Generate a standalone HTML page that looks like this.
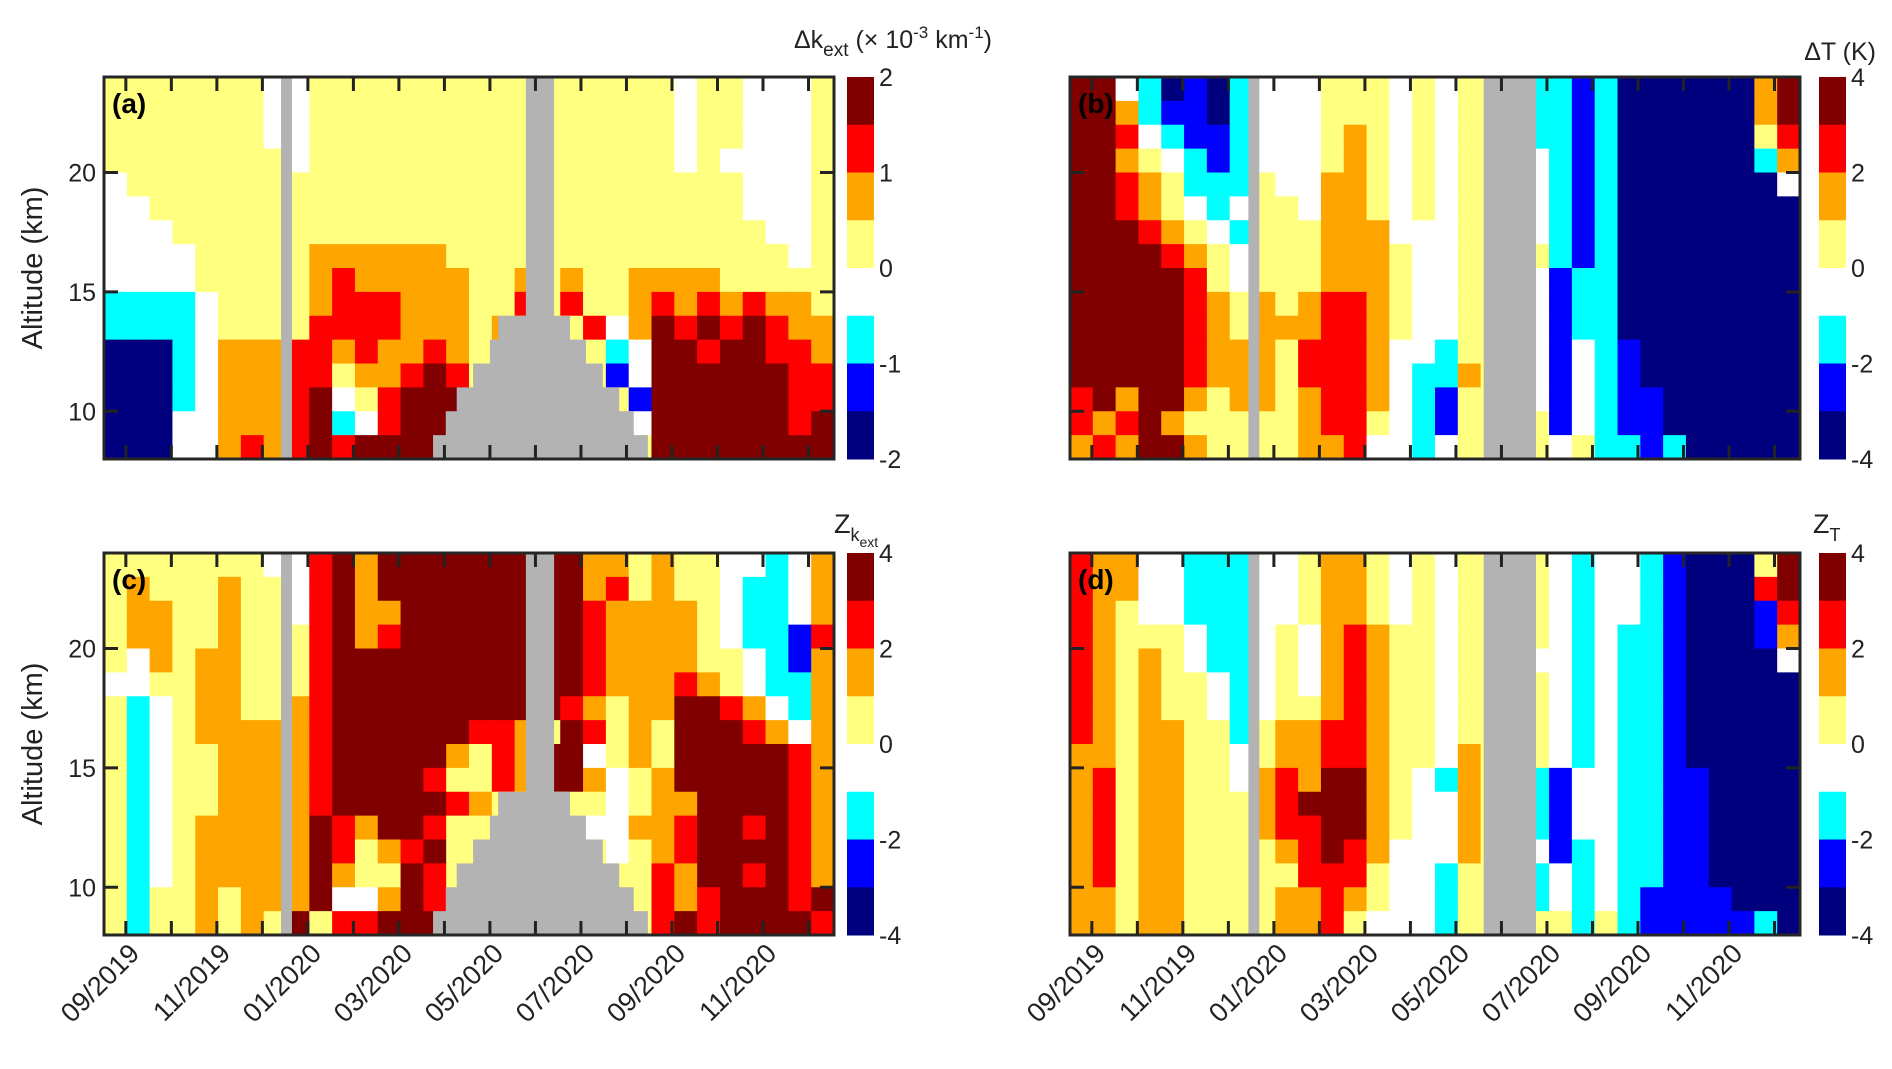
<!DOCTYPE html>
<html><head><meta charset="utf-8">
<style>
html,body{margin:0;padding:0;background:#fff;}
svg{display:block;font-family:"Liberation Sans","DejaVu Sans",sans-serif;}
</style></head>
<body>
<svg id="fig" width="1892" height="1069" viewBox="0 0 1892 1069" xmlns="http://www.w3.org/2000/svg"></svg>
<script>
// ---- data ----
const monthTicks = [0,1,2,3,4,5,6,7,8,9,10,11,12,13,14,15];
const monthLabels = ["09/2019","11/2019","01/2020","03/2020","05/2020","07/2020","09/2020","11/2020"];
const labelMonths = [0,2,4,6,8,10,12,14];
const altTicks = [10,15,20];
const cbarLabelsK = ["2","1","0","-1","-2"];
const cbarLabelsT = ["4","2","0","-2","-4"];
const cbarBands = ["d","r","o","y","w","c","b","n"];
// category grids: rows from 24 km (top) to 8 km, 32 half-month columns (groups of 8)
const gridA = [
"yyyyyyyw wyyyyyyy yyyyyyyy ywyywwwy",
"yyyyyyyw wyyyyyyy yyyyyyyy ywyywwwy",
"yyyyyyyw wyyyyyyy yyyyyyyy ywyywwwy",
"yyyyyyyy wyyyyyyy yyyyyyyy ywywwwwy",
"wyyyyyyy yyyyyyyy yyyyyyyy yyyywwwy",
"wwyyyyyy yyyyyyyy yyyyyyyy yyyywwwy",
"wwwyyyyy yyyyyyyy yyyyyyyy yyyyywwy",
"wwwwyyyy yooooooy yyyyyyyy yyyyyywy",
"wwwwyyyy yorooooo yyoyoyyo oooyyyyy",
"ccccwyyy yorrrooo yyryryyo rororooy",
"ccccwyyy yrrrrooo yoyyyrwo drdrdroo",
"nnncwooo rrorooro yyyyyycw ddrddrro",
"nnncwooo rryoordr yyyyyybw ddddddrr",
"nnncwooo rdwyrddd yyyyyyyb ddddddrr",
"nnnwwooo rdcwrddd yyyyyyyw ddddddrd",
"nnnwworo rdrddddd yyyyyyyy dddddddd"];
const gridB = [
"ddwcnbnc wwwyyywy wyyyccbc nnnnnnod",
"ddocbbnc wwwyyywy wyyyccbc nnnnnnod",
"ddrwcbbc wwwyoywy wyyyccbc nnnnnnyr",
"ddoywcbc wwwyoywy wyyywcbc nnnnnnco",
"ddroyccc ywwooywy wyyywcbc nnnnnnnw",
"ddroywcw yywooywy wyyywcbc nnnnnnnn",
"dddroywc yyyoooww wyyywcbc nnnnnnnn",
"ddddroyw yyyoooyw wyyyycbc nnnnnnnn",
"dddddryw yyyoooyw wyyywbcc nnnnnnnn",
"dddddroy oyorroyw wyyywbcc nnnnnnnn",
"dddddroy ooorroyw wyyywbcc nnnnnnnn",
"dddddroo oyrrroww cyyywbwc bnnnnnnn",
"dddddroo oyrrrowc coyywbwc bnnnnnnn",
"rdoddoyo oyorrowc byyywbwc bbnnnnnn",
"rordoyyy yyorrywc byyyybwc bbnnnnnn",
"oroddoyy yyoorwwc wyyyywyc cbcnnnnn"];
const gridC = [
"yyyyyyyw wrdodddd dddddooy oyywwcwo",
"yoyyyoyy wrdodddd dddddory oyywccwo",
"yooyyoyy wrdooddd dddddroo ooywccwo",
"yooyyoyy yrdorddd dddddroo ooywccbr",
"ywoyooyy yrdddddd dddddroo ooyywcbo",
"wwyyooyy yrdddddd dddddroo oroywcco",
"ycwyooyy ordddddd ddddroyo oddrowco",
"ycwyoooo ordddddd rroydryo ydddrowo",
"ycwyyooo ordddddo yroddwyo ydddddro",
"ycwyyooo orddddry yroddowy odddddro",
"ycwyyooo ordddddr oyyyyywy ooddddro",
"ycwyoooo odroddry yyyyywwo orddrdro",
"ycwyoooo odryordy yyyyyywy orddddro",
"ycwyoooo odoyydry yyyyyyyy roddrdro",
"ycyyoyoo odwwodry yyyyyyyy rordddrd",
"ycyyoyoy dyrrdddy yyyyyyyy rdrddddr"];
const gridD = [
"roowwccc wwyooywy wyyyywcw wcbnnnyd",
"roowwccc wwyooywy wyyyywcw wcbnnnrd",
"roywwccc wwyooywy wyyyywcw wcbnnnbr",
"royyywcc wyworoyy wyyyywcw ccbnnnbo",
"royoywcc wyworoyy wyyywwcw ccbnnnnw",
"royoyywc wyworoyy wyyyywcw ccbnnnnn",
"royoyywc wyyoroyy wyyyywcw ccbnnnnn",
"royooyyc yoorroyy wyyyywcw ccbnnnnn",
"ooyooyyw yoorroyy woyyywcw ccbnnnnn",
"oryooyyw oroddoyw coyycbww ccbbnnnn",
"oryooyyy ordddoyw woyycbww ccbbnnnn",
"oryooyyy orrddoyw woyycbww ccbbnnnn",
"oryooyyy yordroww woyywbcw ccbbnnnn",
"oryooyyy yyrrryww cyyycwcw ccbbnnnn",
"ooyooyyy yooroyww cyyycwcw cbbbbnnn",
"ooyooyyy yoorywww cyyyyycy cbbbbbcn"];
// gray masks (month ranges, full height) and bottom-anchored steps [altTop, startMonth, endMonth]
const maskBarsAC = [[3.41,3.65],[8.79,9.41]];
const stepsAC = [[9,6.75,11.47],[10,7.03,11.16],[11,7.27,10.84],[12,7.63,10.48],[13,8.0,10.11],[14,8.18,9.76]];
const maskBarsBD = [[3.44,3.68],[8.61,9.76]];
</script>
<script>
const NS="http://www.w3.org/2000/svg";
const svg=document.getElementById('fig');
const COLORS={n:"#00007f",b:"#0000ff",c:"#00ffff",w:"#ffffff",y:"#ffff80",o:"#ffa500",r:"#ff0000",d:"#800000",g:"#b3b3b3"};
const TMIN=-0.48, TMAX=15.56;
function mk(tag,attrs,parent){const e=document.createElementNS(NS,tag);for(const k in attrs)e.setAttribute(k,attrs[k]);(parent||svg).appendChild(e);return e;}

function panel(id,left,top,gridRaw,bars,steps,showY,showX,letter,cbLabels,cbX){
  const W=730,H=382;
  const grid=gridRaw.map(s=>s.replace(/ /g,''));
  const xs=t=>left+(t-TMIN)/(TMAX-TMIN)*W;
  const ys=a=>top+(24-a)/16*H;
  const g=mk('g',{});
  
  
  const cw=(TMAX-TMIN)/32;
  grid.forEach((row,ri)=>{
    for(let ci=0;ci<32;ci++){
      const ch=row[ci]||'w';
      const t0=TMIN+ci*cw, a0=24-ri;
      const r=mk('rect',{x:xs(t0),y:ys(a0),width:W/32+0.6,height:H/16+0.6,fill:COLORS[ch]},g);
      
      
    }
  });
  bars.forEach(b=>{
    const r=mk('rect',{x:xs(b[0]),y:top,width:xs(b[1])-xs(b[0]),height:H,fill:COLORS.g},g);
    
    
  });
  (steps||[]).forEach(s=>{
    const r=mk('rect',{x:xs(s[1]),y:ys(s[0]),width:xs(s[2])-xs(s[1]),height:ys(8)-ys(s[0]),fill:COLORS.g},g);
    
    
  });
  monthTicks.forEach(m=>{
    const x=xs(m);
    mk('line',{x1:x,y1:top,x2:x,y2:top+14,stroke:"#222","stroke-width":3},g);
    mk('line',{x1:x,y1:top+H,x2:x,y2:top+H-14,stroke:"#222","stroke-width":3},g);
  });
  altTicks.forEach((a,i)=>{
    const y=ys(a);
    mk('line',{x1:left,y1:y,x2:left+14,y2:y,stroke:"#222","stroke-width":3},g);
    mk('line',{x1:left+W,y1:y,x2:left+W-14,y2:y,stroke:"#222","stroke-width":3},g);
    if(showY){
      const t=mk('text',{x:left-8,y:y+9,"text-anchor":"end","font-size":25,fill:"#222"},g);
      t.textContent=String(a);
      
      
    }
  });
  mk('rect',{x:left,y:top,width:W,height:H,fill:"none",stroke:"#262626","stroke-width":3},g);
  const lt=mk('text',{x:left+8,y:top+36,"font-size":28,"font-weight":"bold",fill:"#000"},g);
  lt.textContent='('+letter+')';
  
  
  if(showY){
    const yc=top+H/2;
    const t=mk('text',{x:0,y:0,"text-anchor":"middle","font-size":29,fill:"#222",transform:`translate(42,${yc}) rotate(-90)`},g);
    t.textContent='Altitude (km)';
    
    
  }
  if(showX){
    labelMonths.forEach((m,i)=>{
      const x=xs(m)+15, y=top+H+20;
      const t=mk('text',{x:0,y:0,"text-anchor":"end","font-size":27,fill:"#222",transform:`translate(${x},${y}) rotate(-45)`},g);
      t.textContent=monthLabels[i];
      
      
    });
  }
  const cb=mk('g',{},g);
  
  
  const bh=H/cbarBands.length;
  cbarBands.forEach((c,i)=>{
    mk('rect',{x:cbX,y:top+i*bh,width:27,height:bh+0.5,fill:COLORS[c]},cb);
  });
  cbLabels.forEach((l,i)=>{
    const t=mk('text',{x:cbX+32,y:top+i*(H/4)+9,"font-size":25,fill:"#222"},cb);
    t.textContent=l;
    
    
  });
}
panel('a',104,77,gridA,maskBarsAC,stepsAC,true,false,'a',cbarLabelsK,847);
panel('b',1070,77,gridB,maskBarsBD,null,false,false,'b',cbarLabelsT,1819);
panel('c',104,553,gridC,maskBarsAC,stepsAC,true,true,'c',cbarLabelsT,847);
panel('d',1070,553,gridD,maskBarsBD,null,false,true,'d',cbarLabelsT,1819);
</script>
<svg style="position:absolute;left:0;top:0" width="1892" height="1069">
<text x="992" y="48" text-anchor="end" font-size="25" fill="#222" font-family="Liberation Sans, DejaVu Sans, sans-serif">Δk<tspan font-size="19" dy="8">ext</tspan><tspan dy="-8"> (× 10</tspan><tspan font-size="17" dy="-10">-3</tspan><tspan dy="10"> km</tspan><tspan font-size="17" dy="-10">-1</tspan><tspan dy="10">)</tspan></text>
<text x="1876" y="60" text-anchor="end" font-size="25" fill="#222" font-family="Liberation Sans, DejaVu Sans, sans-serif">ΔT (K)</text>
<text x="834" y="533" font-size="27" fill="#222" font-family="Liberation Sans, DejaVu Sans, sans-serif">Z<tspan font-size="18" dy="8">k</tspan><tspan font-size="14" dy="6">ext</tspan></text>
<text x="1813" y="533" font-size="27" fill="#222" font-family="Liberation Sans, DejaVu Sans, sans-serif">Z<tspan font-size="18" dy="8">T</tspan></text>
</svg>
</body></html>
